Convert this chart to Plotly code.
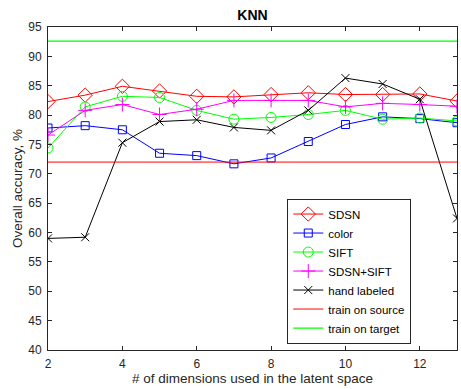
import plotly.graph_objects as go

dims = [2, 3, 4, 5, 6, 7, 8, 9, 10, 11, 12, 13]
sdsn = [82.3, 83.4, 84.9, 84.1, 83.2, 83.1, 83.5, 83.8, 83.5, 83.5, 83.6, 82.4]
color = [77.8, 78.2, 77.5, 73.5, 73.1, 71.7, 72.7, 75.5, 78.4, 79.7, 79.4, 78.7]
sift = [74.4, 81.4, 83.2, 83.0, 80.8, 79.3, 79.6, 80.1, 80.8, 79.3, 79.5, 79.0]
sdsn_sift = [76.6, 80.8, 81.8, 80.1, 81.0, 82.5, 82.5, 82.5, 81.4, 82.0, 81.8, 81.5]
hand = [59.0, 59.2, 75.3, 78.9, 79.2, 77.9, 77.4, 80.8, 86.3, 85.3, 82.7, 62.4]
train_source = 72.0
train_target = 92.6

FONT = "Liberation Sans, Arial, Helvetica"
fig = go.Figure()

def add(name, y, col, sym, size):
    fig.add_trace(go.Scatter(
        x=dims, y=y, name=name, mode="lines+markers",
        line=dict(color=col, width=1),
        marker=dict(symbol=sym, size=size, color=col, line=dict(color=col, width=1)),
    ))

add("SDSN", sdsn, "#ff0000", "diamond-open", 11)
add("color", color, "#0000ff", "square-open", 8)
add("SIFT", sift, "#00ff00", "circle-open", 10)
add("SDSN+SIFT", sdsn_sift, "#ff00ff", "cross-thin-open", 10)
add("hand labeled", hand, "#000000", "x-thin-open", 8)

fig.add_trace(go.Scatter(x=[dims[0], dims[-1]], y=[train_source] * 2, name="train on source",
                         mode="lines", line=dict(color="#ff0000", width=1)))
fig.add_trace(go.Scatter(x=[dims[0], dims[-1]], y=[train_target] * 2, name="train on target",
                         mode="lines", line=dict(color="#00ff00", width=1.3)))

axis_common = dict(
    showline=True, linecolor="#262626", linewidth=1, mirror="ticks",
    ticks="inside", ticklen=4, tickcolor="#262626", showgrid=False, zeroline=False,
    ticklabelstandoff=3,
    tickfont=dict(family=FONT, size=12, color="#262626"),
)

fig.update_layout(
    width=461, height=389,
    margin=dict(l=48, r=4, t=27, b=39),
    plot_bgcolor="white", paper_bgcolor="white",
    title=dict(text="<b>KNN</b>", x=(48 + 457) / 2 / 461, xanchor="center", y=1 - 15 / 389, yanchor="middle",
               font=dict(family=FONT, size=14, color="#000000")),
    xaxis=dict(range=[2, 13], tickvals=[2, 4, 6, 8, 10, 12],
               title=dict(text="# of dimensions used in the latent space", standoff=2,
                          font=dict(family=FONT, size=13.5, color="#262626")),
               **axis_common),
    yaxis=dict(range=[40, 95], tickvals=list(range(40, 96, 5)),
               title=dict(text="Overall accuracy, %", standoff=2,
                          font=dict(family=FONT, size=13.5, color="#262626")),
               **axis_common),
    legend=dict(x=0.585, y=0.02, xanchor="left", yanchor="bottom",
                bgcolor="white", bordercolor="#262626", borderwidth=1,
                font=dict(family=FONT, size=11.5, color="#000000"),
                tracegroupgap=0, itemwidth=30),
    showlegend=True,
)

fig.write_html("out.html")
